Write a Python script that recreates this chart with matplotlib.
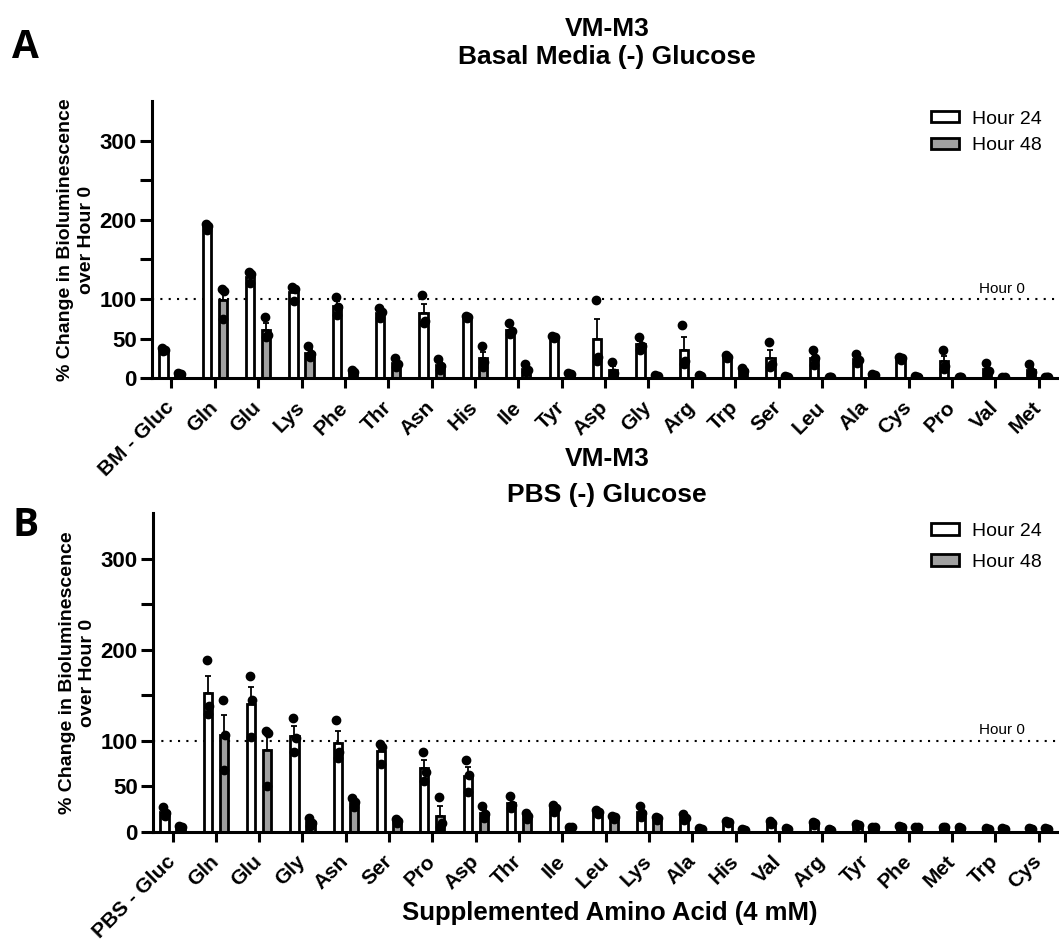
import numpy as np
import matplotlib.pyplot as plt
import matplotlib.transforms as mtransforms
from matplotlib.ticker import FixedLocator, NullFormatter

plt.rcParams['font.family'] = ['Liberation Sans', 'DejaVu Sans']

# --- data: three replicate values per bar ---
labels_a = ['BM - Gluc', 'Gln', 'Glu', 'Lys', 'Phe', 'Thr', 'Asn', 'His', 'Ile', 'Tyr', 'Asp',
            'Gly', 'Arg', 'Trp', 'Ser', 'Leu', 'Ala', 'Cys', 'Pro', 'Val', 'Met']
h24_a = [[38, 36, 34], [195, 192, 187], [134, 131, 120], [115, 113, 97], [103, 90, 80],
         [88, 84, 76], [105, 72, 70], [79, 77, 76], [69, 59, 56], [53, 52, 51], [99, 27, 22],
         [52, 40, 36], [67, 22, 18], [29, 27, 25], [46, 18, 14], [35, 25, 17], [31, 23, 19],
         [27, 25, 23], [36, 15, 12], [19, 9, 6], [18, 8, 5]]
h48_a = [[6, 5, 4], [112, 110, 75], [77, 54, 52], [40, 30, 27], [10, 8, 7], [25, 18, 14],
         [24, 15, 10], [41, 20, 14], [18, 10, 8], [6, 5, 4], [20, 6, 4], [4, 3, 2], [4, 3, 2],
         [13, 9, 7], [3, 2, 1], [2, 1, 1], [5, 4, 3], [3, 2, 2], [2, 1, 1], [1, 1, 0], [2, 1, 1]]

labels_b = ['PBS - Gluc', 'Gln', 'Glu', 'Gly', 'Asn', 'Ser', 'Pro', 'Asp', 'Thr', 'Ile', 'Leu',
            'Lys', 'Ala', 'His', 'Val', 'Arg', 'Tyr', 'Phe', 'Met', 'Trp', 'Cys']
h24_b = [[27, 21, 18], [189, 138, 130], [171, 145, 104], [125, 103, 88], [123, 88, 81],
         [97, 93, 75], [88, 66, 56], [79, 62, 44], [40, 30, 26], [30, 26, 22], [24, 22, 20],
         [28, 21, 17], [20, 15, 13], [12, 11, 10], [12, 10, 9], [11, 10, 8], [9, 8, 7],
         [7, 6, 5], [6, 5, 4], [4, 3, 3], [4, 3, 3]]
h48_b = [[7, 5, 4], [145, 106, 68], [111, 109, 51], [15, 10, 7], [37, 33, 27], [14, 12, 10],
         [38, 10, 6], [28, 20, 15], [21, 18, 14], [6, 5, 4], [18, 16, 14], [16, 15, 13],
         [4, 3, 2], [3, 2, 2], [4, 3, 2], [3, 2, 2], [6, 5, 4], [6, 5, 4], [5, 4, 3],
         [4, 3, 3], [4, 3, 3]]

GREY = '#a0a0a0'
OFF = 0.185
W = 0.19
W_PX, H_PX = 1059, 950


def draw_panel(ax, labels, h24, h48, leg_anchor, leg_spacing):
    x = np.arange(len(labels))
    for vals, dx, color, name in [(h24, -OFF, 'white', 'Hour 24'), (h48, OFF, GREY, 'Hour 48')]:
        vals = np.array(vals, dtype=float)
        mean = vals.mean(axis=1)
        sem = vals.std(axis=1, ddof=1) / np.sqrt(vals.shape[1])
        ax.bar(x + dx, mean, width=W, color=color, edgecolor='black', linewidth=2.0,
               label=name, zorder=2)
        ax.errorbar(x + dx, mean, yerr=[np.zeros_like(sem), sem], fmt='none', ecolor='black',
                    elinewidth=1.3, capsize=2.5, capthick=1.3, zorder=3)
        for j, jit in enumerate([-0.03, 0.03, 0.0]):
            ax.plot(x + dx + jit, vals[:, j], 'o', color='black', ms=6, zorder=4)

    ax.axhline(100, color='black', ls=(0, (1, 3)), lw=1.5, zorder=1)
    ax.text(19.15, 104, 'Hour 0', ha='center', va='bottom', fontsize=11)

    ax.set_xlim(-0.45, 20.42)
    ax.set_ylim(0, 350)
    ax.set_xticks(x)
    ax.set_xticklabels(labels, rotation=45, ha='right', va='center', rotation_mode='anchor',
                       fontsize=15, fontweight='bold')
    # nudge the slanted labels a little to the right, like the original
    shift = mtransforms.ScaledTranslation(4 / 100, 0, ax.figure.dpi_scale_trans)
    for lab in ax.get_xticklabels():
        lab.set_transform(lab.get_transform() + shift)
    ax.set_yticks([0, 50, 100, 200, 300])
    ax.yaxis.set_minor_locator(FixedLocator([150, 250]))
    ax.yaxis.set_minor_formatter(NullFormatter())
    for lab in ax.get_yticklabels():
        lab.set_fontweight('bold')
    ax.tick_params(axis='y', which='both', length=9, width=2.2, labelsize=16, pad=2)
    ax.tick_params(axis='x', length=7, width=2.2, pad=12)
    for s in ['top', 'right']:
        ax.spines[s].set_visible(False)
    for s in ['left', 'bottom']:
        ax.spines[s].set_linewidth(2.2)

    ax.set_ylabel('% Change in Bioluminescence\nover Hour 0', fontsize=14, fontweight='bold',
                  linespacing=1.3, labelpad=3)

    ax.legend(loc='upper left', bbox_to_anchor=leg_anchor, bbox_transform=ax.figure.transFigure,
              frameon=False, fontsize=14, handlelength=1.4, handleheight=0.5,
              handletextpad=0.7, labelspacing=leg_spacing)


def fig_text(fig, px, py, s, **kw):
    fig.text(px / W_PX, 1 - py / H_PX, s, ha='center', va='center', **kw)


fig = plt.figure(figsize=(10.59, 9.5), dpi=100)
ax_a = fig.add_axes([0.1435, 0.602, 0.8545, 0.2916])
ax_b = fig.add_axes([0.1445, 0.1242, 0.8535, 0.3358])

draw_panel(ax_a, labels_a, h24_a, h48_a, (0.863, 0.902), 0.5)
draw_panel(ax_b, labels_b, h24_b, h48_b, (0.863, 0.468), 0.72)

# titles, one line each
fig_text(fig, 607, 29, 'VM-M3', fontsize=19, fontweight='bold')
fig_text(fig, 607, 57, 'Basal Media (-) Glucose', fontsize=19, fontweight='bold')
fig_text(fig, 607, 459, 'VM-M3', fontsize=19, fontweight='bold')
fig_text(fig, 607, 495, 'PBS (-) Glucose', fontsize=19, fontweight='bold')
fig_text(fig, 610, 913, 'Supplemented Amino Acid (4 mM)', fontsize=18.5, fontweight='bold')

fig_text(fig, 25, 47, 'A', fontsize=28, fontweight='bold', family=['Open Sans', 'DejaVu Sans'])
fig_text(fig, 26, 525, 'B', fontsize=28, fontweight='bold', family=['Open Sans', 'DejaVu Sans'])

fig.savefig('out.png', dpi=100)
